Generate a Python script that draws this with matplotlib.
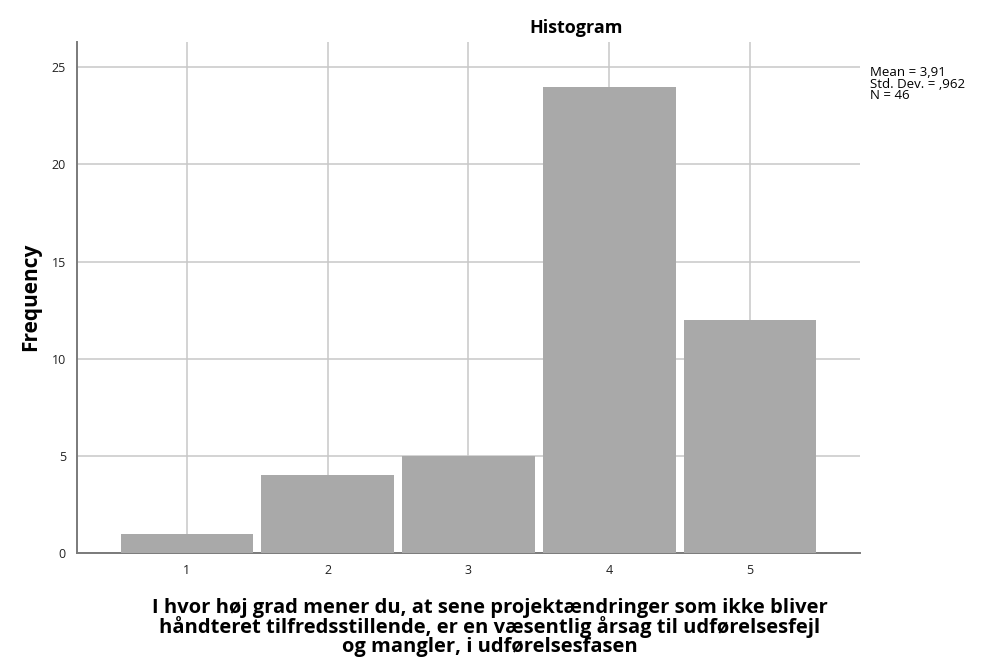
import matplotlib
matplotlib.use("Agg")
import matplotlib.pyplot as plt

# svarkategorier og antal svar
categories = [1, 2, 3, 4, 5]
frequency = [1, 4, 5, 24, 12]
yticks = [0, 5, 10, 15, 20, 25]

title = "Histogram"
ylabel = "Frequency"
xlabel = ("I hvor høj grad mener du, at sene projektændringer som ikke bliver\n"
          "håndteret tilfredsstillende, er en væsentlig årsag til udførelsesfejl\n"
          "og mangler, i udførelsesfasen")
stats = "Mean = 3,91\nStd. Dev. = ,962\nN = 46"

plt.rcParams['font.family'] = ['Open Sans', 'DejaVu Sans']

fig = plt.figure(figsize=(9.86, 6.62), dpi=100)
ax = fig.add_axes([0.0781, 0.1647, 0.7941, 0.7719])

ax.bar(categories, frequency, width=0.94, color='#a9a9a9', zorder=3)

ax.set_xlim(0.22, 5.78)
ax.set_ylim(0, 26.3)
ax.set_xticks(categories)
ax.set_yticks(yticks)
ax.grid(True, color='#c8c8c8', linewidth=1.1, zorder=0)
ax.tick_params(length=0, labelsize=9, colors='#222222', pad=8)

for s in ['top', 'right']:
    ax.spines[s].set_visible(False)
for s in ['left', 'bottom']:
    ax.spines[s].set_color('#7a7a7a')
    ax.spines[s].set_linewidth(1.4)

fig.text(0.584, 0.958, title, ha='center', va='center', fontsize=13, fontweight='bold')
fig.text(0.031, 0.551, ylabel, rotation=90, ha='center', va='center', fontsize=15, fontweight='bold')
fig.text(0.497, 0.052, xlabel, ha='center', va='center', fontsize=14.5, fontweight='bold',
         linespacing=0.9)
fig.text(0.882, 0.9, stats, ha='left', va='top', fontsize=9.5, linespacing=0.85)

fig.savefig("out.png", dpi=100)
